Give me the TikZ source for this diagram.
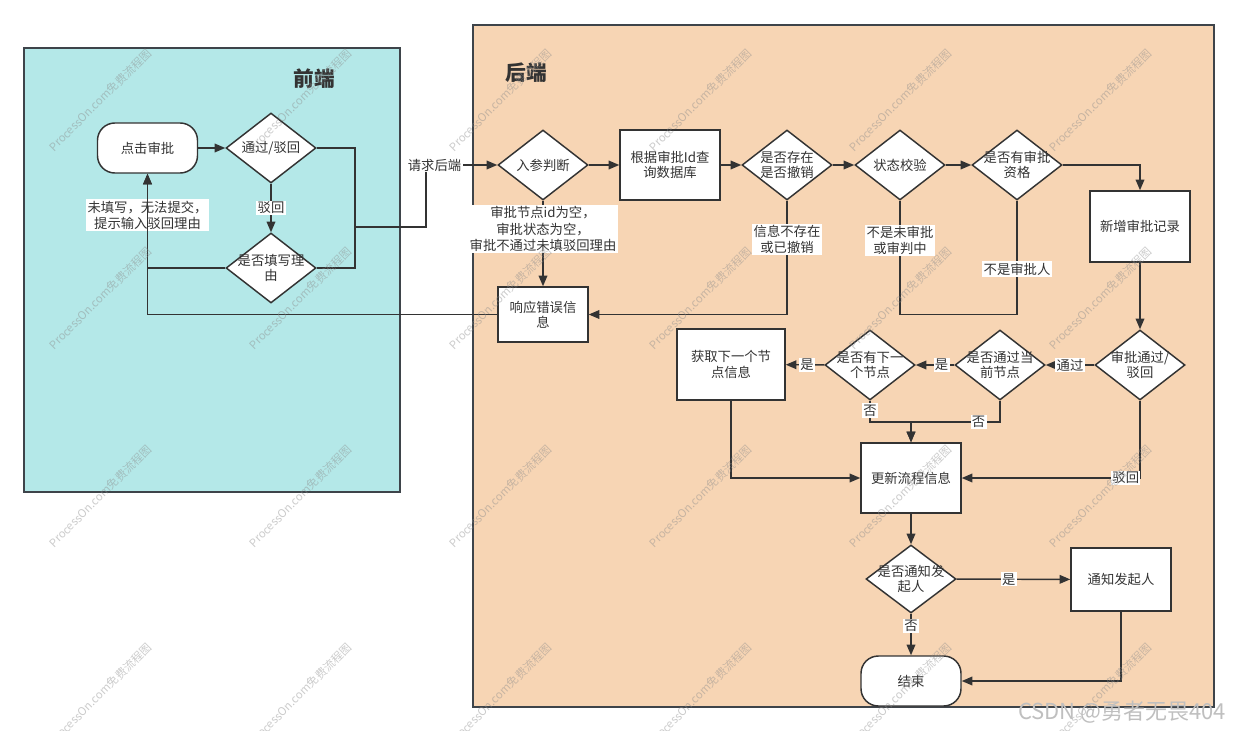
\documentclass[tikz,border=0pt]{standalone}
\usepackage{fontspec}
\setmainfont{Noto Sans CJK SC}
\usetikzlibrary{shapes.geometric,arrows.meta}

\definecolor{fefill}{RGB}{180,232,232}
\definecolor{befill}{RGB}{247,213,180}
\definecolor{panelline}{RGB}{62,68,74}
\definecolor{edge}{RGB}{51,51,51}
\definecolor{ink}{RGB}{51,51,51}

\begin{document}
\begin{tikzpicture}[x=0.75pt,y=-0.75pt,
  every node/.style={font=\fontsize{10}{11.5}\selectfont, text=ink},
  panel/.style={draw=panelline, line width=1.4pt},
  title/.style={font=\fontsize{15.5}{18}\selectfont\bfseries},
  proc/.style={rectangle, draw=edge, fill=white, line width=1.1pt,
    minimum width=75pt, minimum height=52.5pt, align=center, inner sep=2pt},
  term/.style={rectangle, rounded corners=13pt, draw=edge, fill=white,
    line width=1.1pt, minimum width=75pt, minimum height=37.5pt, align=center},
  dia/.style={diamond, draw=edge, fill=white, line width=1.1pt,
    minimum width=67.5pt, minimum height=52.5pt, inner sep=0pt},
  diatext/.style={align=center, inner sep=0pt},
  lbl/.style={fill=white, inner sep=1pt, align=center,
    font=\fontsize{10}{12.5}\selectfont},
  wire/.style={draw=edge, line width=1.1pt},
  arr/.style={wire, -{Triangle[length=8pt,width=6.5pt]}},
  wmark/.style={rotate=45, text=black!45, opacity=0.45,
    font=\fontsize{8.5}{10}\selectfont},
]
\useasboundingbox (0,0) rectangle (1239,731);

% panels
\draw[panel, fill=fefill] (24,48) rectangle (400,492);
\draw[panel, fill=befill] (473,25) rectangle (1214,707);
\node[title] (fe-title) at (314,79) {前端};
\node[title] (be-title) at (526,73) {后端};

% front end
\node[term] (djsp) at (147.5,148) {点击审批};
\node[dia, label={[diatext]center:通过/驳回}] (tgbh) at (271,148) {};
\node[dia, label={[diatext]center:是否填写理\\由}] (txly) at (271,268) {};

% back end, top row
\node[dia, label={[diatext]center:入参判断}] (rucan) at (543,165) {};
\node[proc, minimum width=67.5pt, minimum height=41.25pt] (xiangying) at (543,314.5) {响应错误信\\息};
\node[proc] (genju) at (670,165) {根据审批Id查\\询数据库};
\node[dia, label={[diatext]center:是否存在\\是否撤销}] (cunzai) at (787,165) {};
\node[dia, label={[diatext]center:状态校验}] (zhuangtai) at (900,165) {};
\node[dia, label={[diatext]center:是否有审批\\资格}] (zige) at (1017,165) {};
\node[proc, minimum height=53.25pt] (xinzeng) at (1140,226.5) {新增审批记录};

% back end, middle row
\node[dia, label={[diatext]center:审批通过/\\驳回}] (shenpi) at (1140,365) {};
\node[dia, label={[diatext]center:是否通过当\\前节点}] (dangqian) at (1000,365) {};
\node[dia, label={[diatext]center:是否有下一\\个节点}] (xiayige) at (870,365) {};
\node[proc, minimum width=81pt, minimum height=53.25pt] (huoqu) at (731,364.5) {获取下一个节\\点信息};
\node[proc] (gengxin) at (911,478) {更新流程信息};
\coordinate (merge) at (911,422);

% back end, bottom
\node[dia, minimum height=51pt, label={[diatext]center:是否通知发\\起人}] (tongzhiq) at (911,579) {};
\node[proc, minimum height=47.25pt] (tongzhi) at (1121,579.5) {通知发起人};
\node[term] (jieshu) at (911,681) {结束};

% front-end connectors
\coordinate (fe-join) at (355,227);
\coordinate (be-turn) at (426,227);
\draw[arr] (djsp) -- (tgbh);
\draw[arr] (tgbh) -- node[lbl] {驳回} (txly);
\draw[arr] (txly.west) -| node[lbl, pos=0.78] {未填写，无法提交，\\提示输入驳回理由} (djsp.south);
\draw[wire] (tgbh.east) -| (fe-join);
\draw[wire] (txly.east) -| (fe-join);
\draw[arr] (fe-join) -- (be-turn) |- node[lbl, pos=0.56] {请求后端} (rucan.west);
\draw[arr] (xiangying.west) -| (djsp.south);

% back-end connectors
\draw[arr] (rucan) -- (genju);
\draw[arr] (rucan) -- node[lbl, pos=0.33] {审批节点id为空，\\审批状态为空，\\审批不通过未填驳回理由} (xiangying);
\draw[arr] (genju) -- (cunzai);
\draw[arr] (cunzai) -- (zhuangtai);
\draw[arr] (zhuangtai) -- (zige);
\draw[arr] (zige.east) -| (xinzeng.north);
\draw[arr] (cunzai.south) |- node[lbl, pos=0.17] {信息不存在\\或已撤销} (xiangying.east);
\draw[wire] (zhuangtai.south) -- node[lbl, pos=0.35] {不是未审批\\或审判中} (zhuangtai.south |- xiangying.east);
\draw[wire] (zige.south) |- node[lbl, pos=0.3] {不是审批人} (zhuangtai.south |- xiangying.east);
\draw[arr] (xinzeng) -- (shenpi);
\draw[arr] (shenpi) -- node[lbl] {通过} (dangqian);
\draw[arr] (dangqian) -- node[lbl, pos=0.33] {是} (xiayige);
\draw[arr] (xiayige) -- node[lbl, pos=0.45] {是} (huoqu);
\draw[arr] (xiayige.south) |- node[lbl, pos=0.23] {否} (merge) -- (gengxin.north);
\draw[arr] (dangqian.south) |- node[lbl, pos=0.62] {否} (merge) -- (gengxin.north);
\draw[arr] (huoqu.south) |- (gengxin.west);
\draw[arr] (shenpi.south) |- node[lbl, pos=0.54] {驳回} (gengxin.east);
\draw[arr] (gengxin) -- (tongzhiq);
\draw[arr] (tongzhiq) -- node[lbl, pos=0.46] {是} (tongzhi);
\draw[arr] (tongzhiq) -- node[lbl, pos=0.3] {否} (jieshu);
\draw[arr] (tongzhi.south) |- (jieshu.east);

% site watermarks
\foreach \i in {0,...,5}
  \foreach \j in {0,...,3}
    \node[wmark] (wm-\i-\j) at (100+200*\i, 100+198*\j) {ProcessOn.com免费流程图};
\node[text=black!25, font=\fontsize{16.5}{18}\selectfont] (csdn) at (1122,712) {CSDN @勇者无畏404};
\end{tikzpicture}
\end{document}
